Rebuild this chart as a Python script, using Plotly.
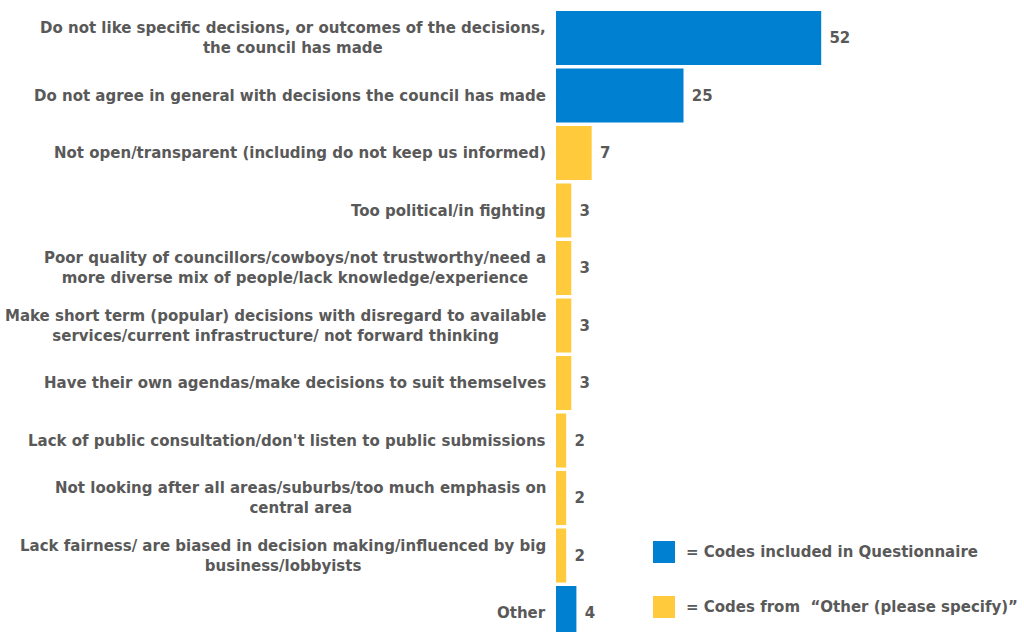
import plotly.graph_objects as go

# Reasons given, top to bottom, with counts and code source
categories = [
    "Do not like specific decisions, or outcomes of the decisions,<br>the council has made",
    "Do not agree in general with decisions the council has made",
    "Not open/transparent (including do not keep us informed)",
    "Too political/in fighting",
    "Poor quality of councillors/cowboys/not trustworthy/need a<br>more diverse mix of people/lack knowledge/experience",
    "Make short term (popular) decisions with disregard to available<br>services/current infrastructure/ not forward thinking",
    "Have their own agendas/make decisions to suit themselves",
    "Lack of public consultation/don't listen to public submissions",
    "Not looking after all areas/suburbs/too much emphasis on<br>central area",
    "Lack fairness/ are biased in decision making/influenced by big<br>business/lobbyists",
    "Other",
]
counts = [52, 25, 7, 3, 3, 3, 3, 2, 2, 2, 4]
source = ["q", "q", "o", "o", "o", "o", "o", "o", "o", "o", "q"]
legend_labels = ["= Codes included in Questionnaire",
                 "= Codes from  \u201cOther (please specify)\u201d"]

BLUE = "#0080D0"
YELLOW = "#FFCB3D"
GREY = "#595959"
FONT = "DejaVu Sans"

colors = [BLUE if s == "q" else YELLOW for s in source]
rows = list(range(len(categories)))

fig = go.Figure()
fig.add_trace(go.Bar(
    y=rows,
    x=counts,
    orientation="h",
    marker=dict(color=colors, line=dict(width=0)),
    text=[f" {v}" for v in counts],
    textposition="outside",
    textfont=dict(family=FONT, size=15, color=GREY, weight="bold"),
    cliponaxis=False,
    showlegend=False,
))

fig.update_layout(
    width=1024, height=632,
    margin=dict(l=556, r=60, t=0, b=0),
    paper_bgcolor="white", plot_bgcolor="white",
    bargap=0.06,
    font=dict(family=FONT, color=GREY),
    xaxis=dict(range=[0, 80], visible=False, fixedrange=True),
    yaxis=dict(range=[10.33, -0.661], visible=False, fixedrange=True),
)

# Category labels, centred within their block to the left of the bars
for r, label in zip(rows, categories):
    fig.add_annotation(xref="x", yref="y", x=0, y=r, xshift=-8,
                       xanchor="right", yanchor="middle", align="center",
                       showarrow=False, text=label,
                       font=dict(family=FONT, size=15, color=GREY, weight="bold"))

# Key for the two code sources
for col, label, yc in zip([BLUE, YELLOW], legend_labels, [552, 607]):
    fig.add_shape(type="rect", xref="paper", yref="paper",
                  x0=(653 - 556) / 408, x1=(675 - 556) / 408,
                  y0=1 - (yc + 11) / 632, y1=1 - (yc - 11) / 632,
                  fillcolor=col, line=dict(width=0))
    fig.add_annotation(xref="paper", yref="paper",
                       x=(684 - 556) / 408, y=1 - yc / 632,
                       xanchor="left", yanchor="middle", showarrow=False,
                       text=label,
                       font=dict(family=FONT, size=15, color=GREY, weight="bold"))

fig.write_html("out.html")
